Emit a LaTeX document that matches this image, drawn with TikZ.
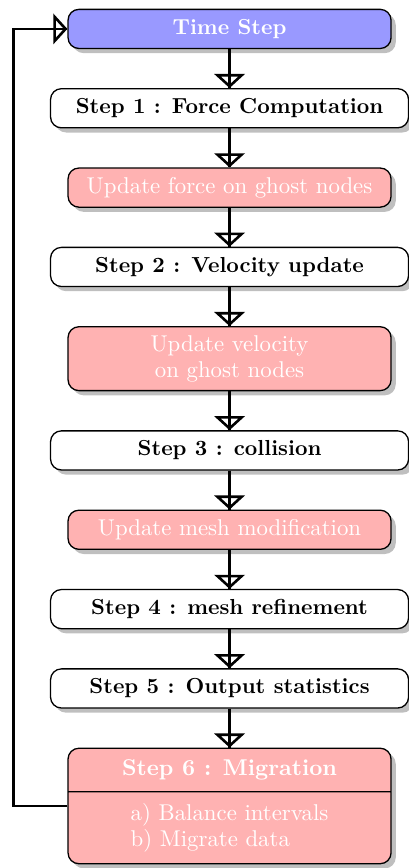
\documentclass[tikz,border=0pt]{standalone}
\usepackage{tikz}
\usetikzlibrary{arrows.meta, positioning, shadows, shapes.multipart}
\tikzset{
    box/.style={rectangle, draw=black, semithick, rounded corners=5pt, minimum height=18pt, align=center, drop shadow},
    stepbox/.style={box, fill=white, minimum width=164.7pt, font=\bfseries},
    ghostbox/.style={box, fill=red!30, text=white, minimum width=148.6pt, font=\fontsize{10.5}{12}\selectfont},
    timebox/.style={box, fill=blue!40, text=white, minimum width=148.6pt, font=\bfseries},
    arrow/.style={-{Triangle[open, length=6.5pt, width=14pt]}, line width=1.2pt, draw=black, postaction={draw, arrows=-}}
}
\begin{document}
\begin{tikzpicture}[node distance=17.9pt]
        \useasboundingbox (0,0) rectangle (188.1pt,-399.3pt);
        \node[timebox] (time) at (105.6pt,-13.3pt) {Time Step};
        \node[stepbox, below=of time] (force) {Step 1 : Force Computation};
        \node[ghostbox, below=of force] (ghostforce) {Update force on ghost nodes};
        \node[stepbox, below=of ghostforce] (velocity) {Step 2 : Velocity update};
        \node[ghostbox, below=of velocity, minimum height=29.4pt] (ghostvel) {Update velocity\\on ghost nodes};
        \node[stepbox, below=of ghostvel] (collision) {Step 3 : collision};
        \node[ghostbox, below=of collision] (ghostmesh) {Update mesh modification};
        \node[stepbox, below=of ghostmesh] (refine) {Step 4 : mesh refinement};
        \node[stepbox, below=of refine] (stats) {Step 5 : Output statistics};
        \node[ghostbox, below=of stats, rectangle split, rectangle split parts=2, inner ysep=5pt, align=left] (migration)
            {\textbf{Step 6 : Migration}\nodepart{two}a) Balance intervals\\b) Migrate data};
        \draw[arrow] (time) -- (force);
        \draw[arrow] (force) -- (ghostforce);
        \draw[arrow] (ghostforce) -- (velocity);
        \draw[arrow] (velocity) -- (ghostvel);
        \draw[arrow] (ghostvel) -- (collision);
        \draw[arrow] (collision) -- (ghostmesh);
        \draw[arrow] (ghostmesh) -- (refine);
        \draw[arrow] (refine) -- (stats);
        \draw[arrow] (stats) -- (migration);
        \draw[arrow] (migration.west) -- ++(-24.8pt,0) |- (time.west);
    \end{tikzpicture}
\end{document}
